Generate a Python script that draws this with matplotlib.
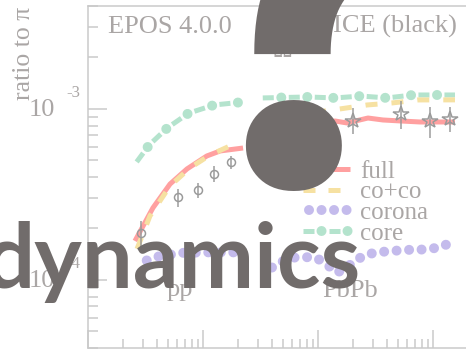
import matplotlib
matplotlib.use("Agg")
import numpy as np
import matplotlib.pyplot as plt
import matplotlib.transforms as mtransforms
from matplotlib.lines import Line2D
from matplotlib.textpath import TextPath
from matplotlib.font_manager import FontProperties

plt.rcParams['lines.scale_dashes'] = False

# ---------------- data ----------------
# pp (ratio to pi vs multiplicity)
core_pp_x = [2.65, 3.4, 4.9, 7.5, 12.5, 23.0]
core_pp_y = [4.9e-4, 6.15e-4, 7.75e-4, 9.45e-4, 1.055e-3, 1.10e-3]
full_pp_x = [2.56, 3.67, 5.17, 7.26, 10.8, 14.1, 22.3]
full_pp_y = [1.69e-4, 2.64e-4, 3.64e-4, 4.46e-4, 5.31e-4, 5.68e-4, 5.91e-4]
coco_pp_x = [2.67, 3.46, 5.17, 7.7, 11.5, 17.2]
coco_pp_y = [1.52e-4, 2.37e-4, 3.55e-4, 4.52e-4, 5.38e-4, 6.08e-4]
corona_pp_x = [2.9, 3.8, 6.5, 11.0, 21.0]
corona_pp_y = [1.26e-4, 1.36e-4, 1.44e-4, 1.45e-4, 1.45e-4]

# PbPb
core_pb_x = [33.1, 81.8, 141, 236, 398, 670, 1130, 1553]
core_pb_y = [1.16e-3, 1.175e-3, 1.16e-3, 1.19e-3, 1.16e-3, 1.207e-3, 1.207e-3, 1.207e-3]
full_pb_x = [33.1, 60, 100, 141, 179, 272, 367, 516, 771, 1150, 1553]
full_pb_y = [7.5e-4, 8.0e-4, 8.3e-4, 8.5e-4, 8.28e-4, 8.85e-4, 8.62e-4, 8.51e-4, 8.39e-4, 8.39e-4, 8.39e-4]
coco_pb_x = [33.1, 70, 155, 267, 440, 741, 1271, 1553]
coco_pb_y = [8.5e-4, 9.3e-4, 1.0e-3, 1.055e-3, 1.084e-3, 1.129e-3, 1.13e-3, 1.13e-3]
corona_pb_x = [36, 45.8, 59.4, 77.1, 96.1, 120, 146, 182, 223, 277, 360, 458, 582, 741, 941, 1197, 1324]
corona_pb_y = [1.13e-4, 1.26e-4, 1.35e-4, 1.36e-4, 1.35e-4, 1.23e-4, 1.10e-4, 1.2e-4, 1.33e-4,
               1.42e-4, 1.46e-4, 1.48e-4, 1.50e-4, 1.50e-4, 1.52e-4, 1.56e-4, 1.62e-4]

# ALICE measurements
alice_pp_x = [2.89, 6.06, 9.05, 12.5, 17.5]
alice_pp_y = [1.88e-4, 3.05e-4, 3.36e-4, 4.17e-4, 4.90e-4]
alice_pp_lo = [1.54e-4, 2.67e-4, 3.02e-4, 3.74e-4, 4.46e-4]
alice_pp_hi = [2.21e-4, 3.40e-4, 3.69e-4, 4.65e-4, 5.31e-4]
alice_pb_x = [201, 527, 942, 1406]
alice_pb_y = [8.51e-4, 9.35e-4, 8.51e-4, 8.74e-4]
alice_pb_lo = [7.14e-4, 7.64e-4, 6.76e-4, 7.33e-4]
alice_pb_hi = [1.014e-3, 1.114e-3, 1.027e-3, 1.027e-3]

legend_labels = ['full', 'co+co', 'corona', 'core']

# ---------------- style ----------------
W, H, DPI = 466, 351, 100
PX = 72.0 / DPI  # points per pixel

grey_txt = '#aaa6a5'
grey_axis = '#c9c9c9'
pink = '#ffa0a0'
yellow = '#f6e1a2'
lavender = '#c4bbec'
mint = '#b4e3cd'
data_grey = '#9a9a9a'
dark = '#716c6b'
serif = 'Liberation Serif'

fig = plt.figure(figsize=(W / DPI, H / DPI), dpi=DPI, facecolor='white')
ax = fig.add_axes([88 / W, 3 / H, 402.5 / W, 342 / H])
ax.set_xscale('log')
ax.set_yscale('log')
ax.set_xlim(1, 10 ** 3.5)
ax.set_ylim(4e-5, 4e-3)

for s in ax.spines.values():
    s.set_color(grey_axis)
    s.set_linewidth(1.5 * PX)
ax.tick_params(which='both', direction='in', color=grey_axis, width=1.5 * PX,
               top=False, right=False, labelleft=False, labelbottom=False)
ax.tick_params(which='major', length=18.5 * PX)
ax.tick_params(which='minor', length=9.5 * PX)

# line styles
def core_lines(x, y):
    ax.plot(x, y, color=mint, lw=5 * PX, linestyle=(0, (11 * PX, 15 * PX)),
            dash_capstyle='butt')
    ax.plot(x, y, color=mint, lw=10 * PX, linestyle=(7.5 * PX, (0.01, 26 * PX)),
            dash_capstyle='round')

def full_line(x, y):
    ax.plot(x, y, color=pink, lw=5 * PX, solid_capstyle='butt')

def coco_line(x, y):
    ax.plot(x, y, color=yellow, lw=5 * PX, linestyle=(0, (12 * PX, 14 * PX)),
            dash_capstyle='butt')

def corona_line(x, y):
    ax.plot(x, y, color=lavender, lw=10 * PX, linestyle=(6.5 * PX, (0.01, 12.5 * PX)),
            dash_capstyle='round')

core_lines(core_pp_x, core_pp_y)
core_lines(core_pb_x, core_pb_y)
full_line(full_pp_x, full_pp_y)
full_line(full_pb_x, full_pb_y)
coco_line(coco_pp_x, coco_pp_y)
coco_line(coco_pb_x, coco_pb_y)
corona_line(corona_pp_x, corona_pp_y)
corona_line(corona_pb_x, corona_pb_y)

def asym(y, lo, hi):
    y = np.asarray(y)
    return [y - np.asarray(lo), np.asarray(hi) - y]

ax.errorbar(alice_pp_x, alice_pp_y, yerr=asym(alice_pp_y, alice_pp_lo, alice_pp_hi),
            fmt='o', mfc='none', mec=data_grey, ms=8 * PX, mew=1.5 * PX,
            ecolor=data_grey, elinewidth=1.5 * PX, capsize=0)
ax.errorbar(alice_pb_x, alice_pb_y, yerr=asym(alice_pb_y, alice_pb_lo, alice_pb_hi),
            fmt='*', mfc='none', mec=data_grey, ms=16 * PX, mew=1.5 * PX,
            ecolor=data_grey, elinewidth=1.5 * PX, capsize=0)

# tick labels in the 10^n style
blend = mtransforms.blended_transform_factory(ax.transAxes, ax.transData)
for e in (-3, -4):
    ax.annotate('10', xy=(0, 10.0 ** e), xycoords=blend, xytext=(-33 * PX, -1.5 * PX),
                textcoords='offset points', ha='right', va='center',
                fontsize=19, family=serif, color=grey_txt, annotation_clip=False)
    ax.annotate('-%d' % -e, xy=(0, 10.0 ** e), xycoords=blend, xytext=(-8 * PX, 16 * PX),
                textcoords='offset points', ha='right', va='center',
                fontsize=12, family=serif, color=grey_txt, annotation_clip=False)

fig.text(24 / W, 1 - 53.5 / H, 'ratio to π', rotation=90, ha='center', va='center',
         fontsize=18.5, family=serif, color=grey_txt)

ax.text(0.0497, 0.921, 'EPOS 4.0.0', transform=ax.transAxes, ha='left', va='baseline',
        fontsize=19, family=serif, color=grey_txt)
ax.text(0.9168, 0.921, 'ALICE (black)', transform=ax.transAxes, ha='right', va='baseline',
        fontsize=19, family=serif, color=grey_txt)
ax.text(0.482, 0.851, 'Ω', transform=ax.transAxes, ha='center', va='baseline',
        fontsize=19, family=serif, color=grey_txt)
ax.text(0.196, 0.1506, 'pp', transform=ax.transAxes, ha='left', va='baseline',
        fontsize=19, family=serif, color=grey_txt)
ax.text(0.581, 0.149, 'PbPb', transform=ax.transAxes, ha='left', va='baseline',
        fontsize=19, family=serif, color=grey_txt)

# legend
h_full = Line2D([], [], color=pink, lw=5 * PX, solid_capstyle='butt')
h_coco = Line2D([], [], color=yellow, lw=5 * PX, linestyle=(0, (12 * PX, 13 * PX)),
                dash_capstyle='butt')
h_corona = Line2D([], [], color=lavender, lw=10 * PX, linestyle=(6.5 * PX, (0.01, 12.5 * PX)),
                  dash_capstyle='round')
h_core_a = Line2D([], [], color=mint, lw=5 * PX, linestyle=(0, (11 * PX, 15 * PX)),
                  dash_capstyle='butt')
h_core_b = Line2D([], [], color=mint, lw=10 * PX, linestyle=(7.5 * PX, (0.01, 26 * PX)),
                  dash_capstyle='round')
leg = ax.legend([h_full, h_coco, h_corona, (h_core_a, h_core_b)], legend_labels,
                loc='upper left', bbox_to_anchor=((303 - 88) / 402.5, (348 - 160.5) / 342),
                frameon=False, prop={'family': serif, 'size': 18}, labelcolor=grey_txt,
                handlelength=1.88, handletextpad=0.4, labelspacing=-0.08,
                borderpad=0, borderaxespad=0)

# overlaid slide lettering
fp_word = FontProperties(family='Lato', weight='bold')
fig.text(361 / W, (H - 288) / H, 'dynamics', fontproperties=fp_word, fontsize=65,
         ha='right', va='baseline', color=dark, zorder=10)

# large question mark, sized and placed from the geometry of its dot
fp_q = FontProperties(family='Roboto', weight='bold')
tp = TextPath((0, 0), '?', size=1, prop=fp_q)
polys = tp.to_polygons()
dot = min(polys, key=lambda p: p[:, 1].max())
dot_w = dot[:, 0].max() - dot[:, 0].min()
dot_cx = 0.5 * (dot[:, 0].max() + dot[:, 0].min())
dot_bottom = dot[:, 1].min()
em_px = 96.0 / dot_w
q_x = 294 - dot_cx * em_px          # pen origin of the glyph
q_base = (H - 191) - dot_bottom * em_px
fig.text(q_x / W, q_base / H, '?', fontproperties=fp_q, fontsize=em_px * 72 / DPI,
         ha='left', va='baseline', color=dark, zorder=10)

fig.savefig('out.png', dpi=DPI, facecolor='white')
